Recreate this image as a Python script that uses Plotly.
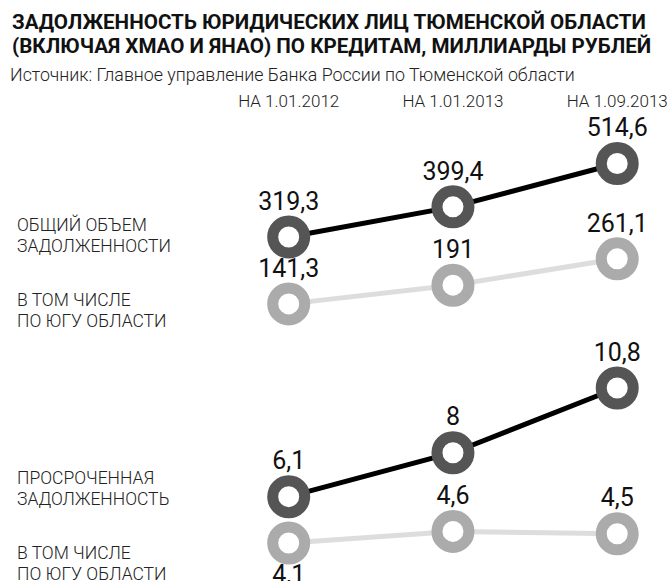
import plotly.graph_objects as go

periods = ["НА 1.01.2012", "НА 1.01.2013", "НА 1.09.2013"]
total_debt = [319.3, 399.4, 514.6]
total_debt_south = [141.3, 191, 261.1]
overdue_debt = [6.1, 8, 10.8]
overdue_debt_south = [4.1, 4.6, 4.5]

def fmt(v):
    return ("%g" % v).replace(".", ",")

W, H = 668, 581
xs = list(range(len(periods)))

DARK_M = "#555555"
LIGHT_M = "#ababab"
FONT = "Roboto"

fig = go.Figure()

def add(series, yaxis, line_color, marker_color, positions):
    fig.add_trace(go.Scatter(
        x=xs, y=series, yaxis=yaxis, mode="lines+markers+text",
        line=dict(color=line_color, width=5),
        marker=dict(size=32, color="white", line=dict(color=marker_color, width=11)),
        text=[fmt(v) for v in series], textposition=positions,
        textfont=dict(family=FONT, size=25, color="#111111"),
        cliponaxis=False, hoverinfo="skip", showlegend=False,
    ))

add(total_debt_south, "y", "#dddddd", LIGHT_M, "top center")
add(total_debt, "y", "#000000", DARK_M, "top center")
add(overdue_debt_south, "y2", "#dddddd", LIGHT_M, ["bottom center", "top center", "top center"])
add(overdue_debt, "y2", "#000000", DARK_M, "top center")

def px_to_paper(p):
    return 1 - p / H

annotations = []
def ann(text, x, y, size, weight=300, color="#222222"):
    annotations.append(dict(text=text, x=x / W, y=px_to_paper(y), xref="paper", yref="paper",
                            xanchor="left", yanchor="middle", showarrow=False, borderpad=0,
                            font=dict(family=FONT, size=size, color=color, weight=weight), align="left"))

ann("ЗАДОЛЖЕННОСТЬ ЮРИДИЧЕСКИХ ЛИЦ ТЮМЕНСКОЙ ОБЛАСТИ", 11, 22, 20.6, 700, color="#111111")
ann("(ВКЛЮЧАЯ ХМАО И ЯНАО) ПО КРЕДИТАМ, МИЛЛИАРДЫ РУБЛЕЙ", 11, 46, 20.6, 700, color="#111111")
ann("Источник: Главное управление Банка России по Тюменской области", 9, 74, 17.8, 300)

ann("ОБЩИЙ ОБЪЕМ", 16, 224, 17.5)
ann("ЗАДОЛЖЕННОСТИ", 16, 246, 17.5)
ann("В ТОМ ЧИСЛЕ", 16, 300, 17.5)
ann("ПО ЮГУ ОБЛАСТИ", 16, 321, 17.5)
ann("ПРОСРОЧЕННАЯ", 16, 478, 17.5)
ann("ЗАДОЛЖЕННОСТЬ", 16, 499, 17.5)
ann("В ТОМ ЧИСЛЕ", 16, 553, 17.5)
ann("ПО ЮГУ ОБЛАСТИ", 16, 574, 17.5)

x0, dx = 290, 165
fig.update_layout(
    width=W, height=H, margin=dict(l=0, r=0, t=0, b=0),
    paper_bgcolor="white", plot_bgcolor="white",
    xaxis=dict(range=[-x0 / dx, (W - x0) / dx], tickvals=xs, ticktext=periods, side="top",
               showgrid=False, zeroline=False, showline=False, ticks="",
               tickfont=dict(family=FONT, size=17, color="#222222", weight=300),
               ticklabelstandoff=0, ticklabeloverflow="allow",
               anchor="free", position=px_to_paper(110)),
    yaxis=dict(range=[-595.7, 949.5], domain=[0, 1], visible=False),
    yaxis2=dict(range=[2.456, 27.57], domain=[0, 1], overlaying="y", visible=False),
    annotations=annotations,
)

fig.write_html("out.html", config={"displayModeBar": False},
               post_script="document.body.style.margin='0';document.body.style.overflow='hidden';")
